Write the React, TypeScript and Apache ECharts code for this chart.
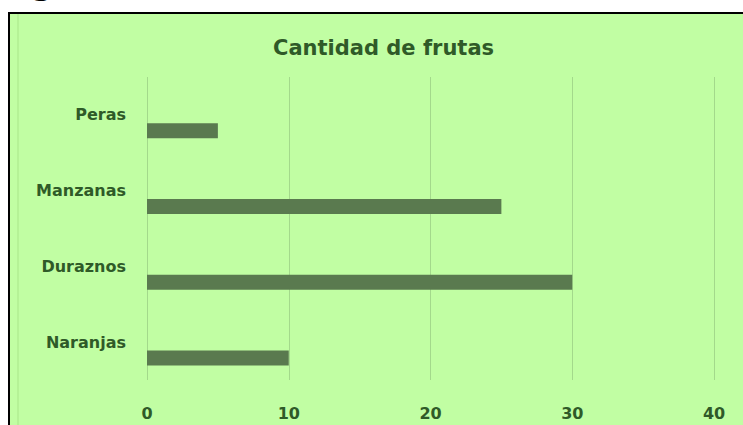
import React, { useEffect, useRef } from "react";
import * as echarts from "echarts";

const categories = ["Peras", "Manzanas", "Duraznos", "Naranjas"];
const cantidades = [5, 25, 30, 10];
const emptySeries: (number | null)[] = [null, null, null, null];
const xTicks = [0, 10, 20, 30, 40];
const chartTitle = "Cantidad de frutas";

const FONT = "'DejaVu Sans', sans-serif";
const TEXT_COLOR = "#2f5a28";

export default function App() {
  const ref = useRef<HTMLDivElement>(null);
  useEffect(() => {
    if (!ref.current) return;
    const chart = echarts.init(ref.current, undefined, { renderer: "svg" });
    chart.setOption({
      animation: false,
      backgroundColor: "#ffffff",
      title: {
        text: chartTitle,
        left: 268,
        top: 32,
        textStyle: { fontFamily: FONT, fontSize: 21, fontWeight: "bold", color: TEXT_COLOR },
      },
      graphic: [
        {
          type: "rect",
          z: -10,
          silent: true,
          shape: { x: 9, y: 13, width: 760, height: 440 },
          style: { fill: "#c1fea3", stroke: "#000000", lineWidth: 2 },
        },
        {
          type: "line",
          z: -9,
          silent: true,
          shape: { x1: 18, y1: 14, x2: 18, y2: 425 },
          style: { stroke: "#b0ee92", lineWidth: 1.5 },
        },
        {
          type: "text",
          x: 31,
          y: -1.5,
          style: {
            text: "g",
            font: "bold 32px 'DejaVu Sans', sans-serif",
            fill: "#000000",
            verticalAlign: "bottom",
          },
        },
      ],
      grid: { left: 147, right: 29, top: 77, bottom: 45 },
      xAxis: {
        type: "value",
        min: xTicks[0],
        max: xTicks[xTicks.length - 1],
        interval: 10,
        axisLine: { show: false },
        axisTick: { show: false },
        splitLine: { show: true, lineStyle: { color: "#a3d98b", width: 1 } },
        axisLabel: {
          margin: 25,
          fontFamily: FONT,
          fontSize: 16,
          fontWeight: "bold",
          color: TEXT_COLOR,
        },
      },
      yAxis: {
        type: "category",
        inverse: true,
        data: categories,
        axisLine: { show: false },
        axisTick: { show: false },
        splitLine: { show: false },
        axisLabel: {
          margin: 21,
          fontFamily: FONT,
          fontSize: 16,
          fontWeight: "bold",
          color: TEXT_COLOR,
        },
      },
      series: [
        {
          type: "bar",
          name: "vacío",
          data: emptySeries,
          barWidth: 15,
          barGap: "113%",
          itemStyle: { color: "#5a7a4f" },
        },
        {
          type: "bar",
          name: "Cantidad",
          data: cantidades,
          barWidth: 15,
          barGap: "113%",
          itemStyle: { color: "#5a7a4f" },
        },
      ],
    });
    return () => chart.dispose();
  }, []);
  return (
    <div
      ref={ref}
      style={{ position: "fixed", left: 0, top: 0, width: 743, height: 425 }}
    />
  );
}
